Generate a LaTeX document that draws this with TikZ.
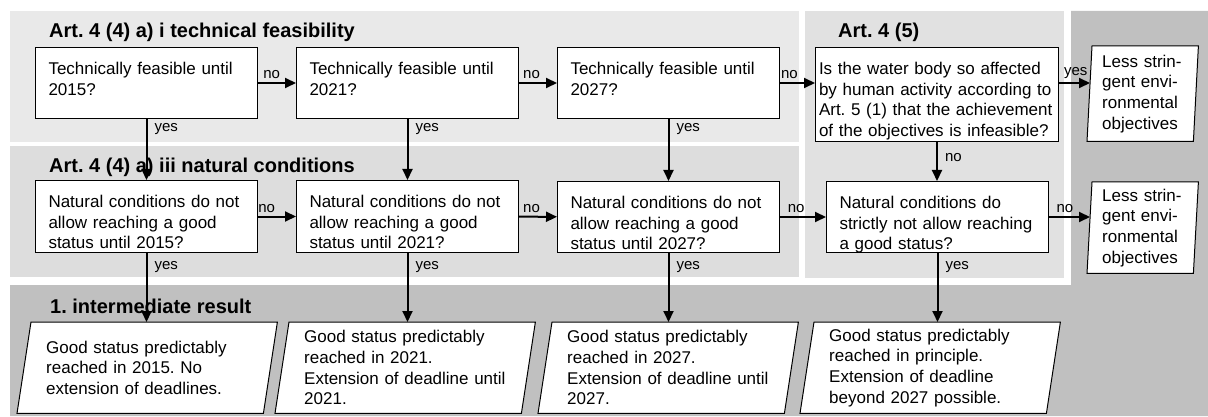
\documentclass[tikz,border=0pt]{standalone}
\usepackage{fontspec}
\setmainfont{Liberation Sans}
\usetikzlibrary{arrows.meta,backgrounds}
\frenchspacing

\definecolor{lightpanel}{RGB}{233,233,233}
\definecolor{midpanel}{RGB}{221,221,221}
\definecolor{sidepanel}{RGB}{225,225,225}
\definecolor{darkpanel}{RGB}{192,192,192}

\begin{document}
\begin{tikzpicture}[
  x=1pt,y=-1pt,
  qbox/.style={draw,fill=white,line width=1pt,anchor=north west,align=left,
    text width=196pt,inner xsep=13pt,inner ysep=14pt,text height=13pt,text depth=#1,
    font=\fontsize{17}{20.7}\selectfont},
  qbox/.default=30pt,
  pbox/.style={anchor=north west,align=left,text width=202pt,inner xsep=29pt,
    minimum height=91pt,font=\fontsize{17}{20.7}\selectfont},
  head/.style={anchor=base west,inner sep=0pt,font=\fontsize{20}{24}\selectfont\bfseries},
  lbl/.style={inner sep=3pt,font=\fontsize{15}{18}\selectfont},
  arr/.style={line width=2pt,-{Triangle[length=11pt,width=10pt]}},
]
  \useasboundingbox (0,0) rectangle (1208,417);

  \node[head] (h1) at (49,38) {Art. 4 (4) a) i technical feasibility};
  \node[head] (h2) at (49,172) {Art. 4 (4) a) iii natural conditions};
  \node[head] (h3) at (838,38) {Art. 4 (5)};
  \node[head] (h4) at (50,313) {1. intermediate result};

  % technical feasibility
  \node[qbox] (a1) at (35,47) {Technically feasible until\\2015?};
  \node[qbox] (a2) at (296,47) {Technically feasible until\\2021?};
  \node[qbox] (a3) at (557,47) {Technically feasible until\\2027?};
  \node[qbox=53pt,inner xsep=3.5pt,text width=236pt] (a4) at (815,47)
    {Is the water body so affected\\by human activity according to\\Art. 5 (1) that the achievement\\of the objectives is infeasible?};
  \node[pbox,text width=81pt,inner xsep=15pt,minimum height=95pt] (r1) at (1087,46)
    {Less strin-\\gent envi-\\ronmental\\objectives};

  % natural conditions
  \node[qbox=31pt] (b1) at (35,180) {Natural conditions do not\\allow reaching a good\\status until 2015?};
  \node[qbox=31pt] (b2) at (296,180) {Natural conditions do not\\allow reaching a good\\status until 2021?};
  \node[qbox] (b3) at (557,181) {Natural conditions do not\\allow reaching a good\\status until 2027?};
  \node[qbox] (b4) at (826,181) {Natural conditions do\\strictly not allow reaching\\a good status?};
  \node[pbox,text width=81pt,inner xsep=15pt] (r2) at (1087,182)
    {Less strin-\\gent envi-\\ronmental\\objectives};

  % intermediate result
  \node[pbox] (c1) at (17,322) {Good status predictably\\reached in 2015. No\\extension of deadlines.};
  \node[pbox] (c2) at (275,322) {Good status predictably\\reached in 2021.\\Extension of deadline until\\2021.};
  \node[pbox] (c3) at (538,322) {Good status predictably\\reached in 2027.\\Extension of deadline until\\2027.};
  \node[pbox] (c4) at (800,322) {Good status predictably\\reached in principle.\\Extension of deadline\\beyond 2027 possible.};

  \begin{scope}[on background layer]
    \fill[darkpanel] (10,285) -- (1071,285) -- (1071,11) -- (1208,11) -- (1208,416) -- (10,416) -- cycle;
    \fill[lightpanel] (10,11) rectangle (799,142);
    \fill[midpanel] (10,146) rectangle (799,277);
    \fill[sidepanel] (805,11) rectangle (1064,278);
    \foreach \n/\s in {r1/5pt,r2/5pt,c1/14pt,c2/14pt,c3/14pt,c4/14pt}
      \draw[fill=white,line width=1pt] ([xshift=\s]\n.north west) -- (\n.north east)
        -- ([xshift=-\s]\n.south east) -- (\n.south west) -- cycle;
  \end{scope}

  \draw[arr] (a1) -- node[lbl,above,pos=0.36] {no} (a2);
  \draw[arr] (a2) -- node[lbl,above,pos=0.33] {no} (a3);
  \draw[arr] (a3) -- node[lbl,above,pos=0.27] {no} (a3 -| a4.west);
  \draw[arr] (a4.east |- a3) -- node[lbl,above,pos=0.54] {yes} ([xshift=3pt]r1.west |- a3);

  \draw[arr] (b1) -- node[lbl,above,pos=0.23] {no} (b2);
  \draw[arr] (b2) -- node[lbl,above,pos=0.33] {no} (b3);
  \draw[arr] (b3) -- node[lbl,above,pos=0.35] {no} (b4);
  \draw[arr] (b4) -- node[lbl,above,pos=0.39] {no} ([xshift=3pt]r2.west |- b4);

  \draw[arr] (a1) -- node[lbl,right=4pt,pos=0.16] {yes} (b1);
  \draw[arr] (a2) -- node[lbl,right=4pt,pos=0.16] {yes} (b2);
  \draw[arr] (a3) -- node[lbl,right=4pt,pos=0.16] {yes} (a3 |- b3.north);
  \draw[arr] (a4) -- node[lbl,right=4pt,pos=0.4] {no} (a4 |- b4.north);

  \draw[arr] (b1) -- node[lbl,right=4pt,pos=0.2] {yes} (b1 |- c1.north);
  \draw[arr] (b2) -- node[lbl,right=4pt,pos=0.2] {yes} (b2 |- c2.north);
  \draw[arr] (b3) -- node[lbl,right=4pt,pos=0.2] {yes} (b3 |- c3.north);
  \draw[arr] (b4) -- node[lbl,right=4pt,pos=0.2] {yes} (b4 |- c4.north);
\end{tikzpicture}
\end{document}
